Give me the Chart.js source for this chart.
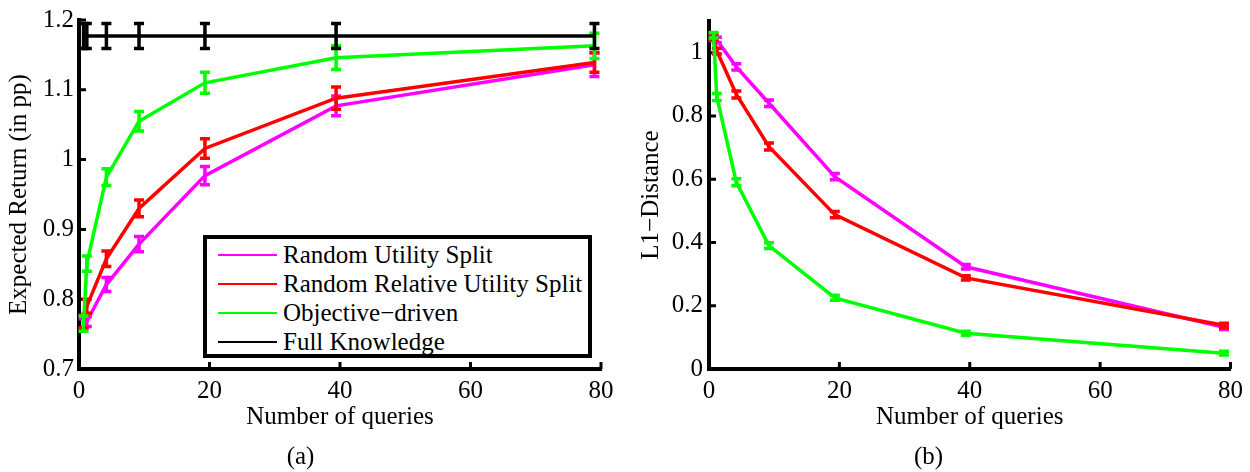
<!DOCTYPE html>
<html>
<head>
<meta charset="utf-8">
<script src="https://cdn.jsdelivr.net/npm/chart.js@4.4.1/dist/chart.umd.min.js"></script>
<style>
  body { margin: 0; background: #fff; }
  .panel { position: absolute; top: 0; width: 625px; height: 472px; }
  #panelA { left: 0; }
  #panelB { left: 625px; }
  #legend {
    position: absolute; left: 203px; top: 235px; width: 389px; height: 123px;
    box-sizing: border-box; border: 4px solid #000; background: #fff;
    padding-top: 1px; font-family: "Liberation Serif", "Times New Roman", serif; font-size: 25px; color: #000;
  }
  .row { display: flex; align-items: center; height: 29px; line-height: 29px; white-space: nowrap; }
  .swatch { width: 59px; height: 2px; margin-left: 11px; margin-right: 6px; }
</style>
</head>
<body>
<div class="panel" id="panelA"><canvas id="chartA" width="625" height="472"></canvas></div>
<div class="panel" id="panelB"><canvas id="chartB" width="625" height="472"></canvas></div>
<div id="legend"></div>
<script>
// number of queries (x positions of the measurements)
const queries = [0.7, 1.2, 4.2, 9.2, 19.3, 39.4, 79];

// (a) expected return
const returnUtility = [0.765, 0.768, 0.821, 0.879, 0.977, 1.077, 1.136];
const returnRelative = [0.768, 0.790, 0.858, 0.930, 1.016, 1.088, 1.139];
const returnObjective = [0.765, 0.851, 0.975, 1.055, 1.110, 1.146, 1.163];
const returnFull = [1.177, 1.177, 1.177, 1.177, 1.177, 1.177, 1.177];
const errUtilityA = [0.007, 0.007, 0.010, 0.011, 0.013, 0.014, 0.017];
const errRelativeA = [0.009, 0.010, 0.011, 0.012, 0.014, 0.016, 0.014];
const errObjectiveA = [0.011, 0.011, 0.012, 0.014, 0.015, 0.017, 0.018];
const errFullA = [0.018, 0.018, 0.018, 0.018, 0.018, 0.018, 0.018];

// (b) L1 distance
const distUtility = [1.047, 1.040, 0.955, 0.840, 0.608, 0.323, 0.132];
const distRelative = [1.050, 1.005, 0.868, 0.703, 0.488, 0.288, 0.138];
const distObjective = [1.055, 0.860, 0.590, 0.390, 0.225, 0.113, 0.050];
const errUtilityB = [0.009, 0.009, 0.010, 0.010, 0.010, 0.007, 0.007];
const errRelativeB = [0.009, 0.009, 0.011, 0.011, 0.010, 0.007, 0.007];
const errObjectiveB = [0.009, 0.011, 0.011, 0.009, 0.008, 0.006, 0.006];

// tick labels
const xTicks = [0, 20, 40, 60, 80];
const yTicksA = [0.7, 0.8, 0.9, 1, 1.1, 1.2];
const yTicksB = [0, 0.2, 0.4, 0.6, 0.8, 1];

const seriesNames = ["Random Utility Split", "Random Relative Utility Split", "Objective\u2212driven", "Full Knowledge"];
const seriesColors = ["#ff00ff", "#ff0000", "#00ff00", "#000000"];

Chart.defaults.font.family = '"Liberation Serif", "Times New Roman", serif';
Chart.defaults.font.size = 25;
Chart.defaults.color = "#000";

function points(values) {
  return values.map((v, i) => ({ x: queries[i], y: v }));
}

function series(idx, values, errors) {
  return {
    label: seriesNames[idx],
    data: points(values),
    errors,
    borderColor: seriesColors[idx],
    backgroundColor: seriesColors[idx],
    borderWidth: 3.5,
    pointRadius: 0,
    tension: 0,
    order: 3 - idx,
  };
}

// vertical error bars with caps, drawn right after each line
const errorBars = {
  id: "errorBars",
  afterDatasetDraw(chart, args) {
    const ds = chart.data.datasets[args.index];
    if (!ds.errors) return;
    const { ctx, scales: { x, y } } = chart;
    ctx.save();
    ctx.strokeStyle = ds.borderColor;
    ctx.lineWidth = 3.5;
    ds.data.forEach((p, i) => {
      const px = x.getPixelForValue(p.x);
      const top = y.getPixelForValue(p.y + ds.errors[i]);
      const bot = y.getPixelForValue(p.y - ds.errors[i]);
      ctx.beginPath();
      ctx.moveTo(px, top); ctx.lineTo(px, bot);
      ctx.moveTo(px - 5, top); ctx.lineTo(px + 5, top);
      ctx.moveTo(px - 5, bot); ctx.lineTo(px + 5, bot);
      ctx.stroke();
    });
    ctx.restore();
  },
};

// MATLAB style ticks pointing into the plot
const inwardTicks = {
  id: "inwardTicks",
  beforeDatasetsDraw(chart) {
    const { ctx, chartArea, scales: { x, y } } = chart;
    ctx.save();
    ctx.strokeStyle = "#000";
    ctx.lineWidth = 3;
    ctx.beginPath();
    x.ticks.forEach((t) => {
      const px = x.getPixelForValue(t.value);
      ctx.moveTo(px, chartArea.bottom);
      ctx.lineTo(px, chartArea.bottom - 7);
    });
    y.ticks.forEach((t) => {
      const py = y.getPixelForValue(t.value);
      ctx.moveTo(chartArea.left, py);
      ctx.lineTo(chartArea.left + 7, py);
    });
    ctx.stroke();
    ctx.restore();
  },
};

function makeOptions(cfg) {
  return {
    responsive: false,
    animation: false,
    devicePixelRatio: 1,
    layout: { padding: cfg.padding },
    plugins: {
      legend: { display: false },
      tooltip: { enabled: false },
      title: {
        display: true,
        text: cfg.caption,
        position: "bottom",
        color: "#000",
        font: { size: 25, weight: "normal" },
        padding: 0,
      },
    },
    scales: {
      x: {
        type: "linear",
        min: 0,
        max: 80,
        afterFit: (s) => { s.height = 73; },
        afterBuildTicks: (s) => { s.ticks = xTicks.map((v) => ({ value: v })); },
        grid: { display: false, drawTicks: false },
        border: { display: true, width: 4, color: "#000" },
        ticks: { padding: 7, color: "#000" },
        title: { display: true, text: "Number of queries", color: "#000", padding: { top: 0, bottom: 10 } },
      },
      y: {
        type: "linear",
        min: cfg.yMin,
        max: cfg.yMax,
        afterFit: (s) => { s.width = cfg.yWidth; },
        afterBuildTicks: (s) => { s.ticks = cfg.yTicks.map((v) => ({ value: v })); },
        grid: { display: false, drawTicks: false },
        border: { display: true, width: 4, color: "#000" },
        ticks: { padding: cfg.tickPad, color: "#000", callback: (v) => String(Number(v.toFixed(1))) },
        title: { display: true, text: cfg.yTitle, color: "#000", padding: { top: cfg.titlePad, bottom: 0 } },
      },
    },
  };
}

const chartA = new Chart(document.getElementById("chartA"), {
  type: "line",
  data: {
    datasets: [
      series(0, returnUtility, errUtilityA),
      series(1, returnRelative, errRelativeA),
      series(2, returnObjective, errObjectiveA),
      series(3, returnFull, errFullA),
    ],
  },
  options: makeOptions({
    padding: { top: 15, right: 24, left: 0, bottom: 0 },
    caption: "(a)",
    yMin: 0.7, yMax: 1.2, yTicks: yTicksA, yWidth: 79, tickPad: 5, titlePad: 4,
    yTitle: "Expected Return (in pp)",
  }),
  plugins: [errorBars, inwardTicks],
});

new Chart(document.getElementById("chartB"), {
  type: "line",
  data: {
    datasets: [
      series(0, distUtility, errUtilityB),
      series(1, distRelative, errRelativeB),
      series(2, distObjective, errObjectiveB),
    ],
  },
  options: makeOptions({
    padding: { top: 17, right: 18, left: 0, bottom: 0 },
    caption: "(b)",
    yMin: 0, yMax: 1.1, yTicks: yTicksB, yWidth: 84, tickPad: 6, titlePad: 11,
    yTitle: "L1\u2212Distance",
  }),
  plugins: [errorBars, inwardTicks],
});

// legend of panel (a), built from its datasets
const legendEl = document.getElementById("legend");
chartA.data.datasets.forEach((ds) => {
  const row = document.createElement("div");
  row.className = "row";
  const sw = document.createElement("span");
  sw.className = "swatch";
  sw.style.background = ds.borderColor;
  const txt = document.createElement("span");
  txt.textContent = ds.label;
  row.appendChild(sw);
  row.appendChild(txt);
  legendEl.appendChild(row);
});
</script>
</body>
</html>
